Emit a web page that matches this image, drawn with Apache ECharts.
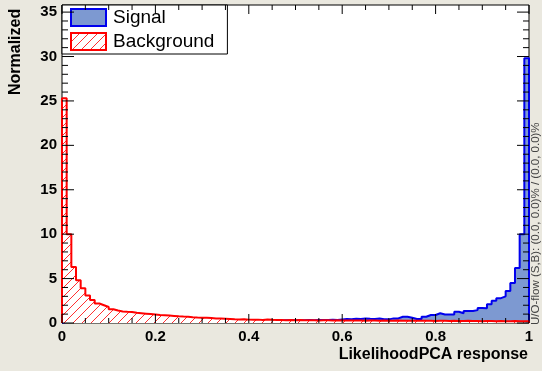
<!DOCTYPE html>
<html><head><meta charset="utf-8">
<script src="https://cdn.jsdelivr.net/npm/echarts@6/dist/echarts.min.js"></script>
<style>html,body{margin:0;padding:0;background:#eae8df;}#c{width:542px;height:371px;}</style>
</head><body><div id="c"></div>
<script>
// Histogram bin edges: 100 bins from 0 to 1 (width 0.01)
var binLow = 0, binWidth = 0.01;
var signalValues = [
 0.15,0.15,0.15,0.16,0.15,0.16,0.17,0.16,0.17,0.17,
 0.18,0.18,0.17,0.18,0.19,0.18,0.2,0.19,0.2,0.2,
 0.2,0.21,0.2,0.22,0.21,0.22,0.22,0.23,0.22,0.24,
 0.24,0.23,0.25,0.24,0.26,0.25,0.26,0.27,0.26,0.27,
 0.28,0.27,0.28,0.29,0.28,0.3,0.29,0.3,0.31,0.3,
 0.32,0.31,0.33,0.32,0.34,0.33,0.35,0.36,0.35,0.4,
 0.45,0.42,0.48,0.44,0.5,0.47,0.45,0.5,0.41,0.41,
 0.52,0.52,0.7,0.7,0.6,0.45,0.45,0.7,0.9,0.9,
 1.1,0.95,0.95,0.95,1.27,1.1,1.35,1.35,1.45,1.7,
 1.65,2.1,2.5,2.8,3.0,3.6,4.5,6.2,10.0,29.8
];
var backgroundValues = [
 25.3,10.0,6.3,4.8,3.9,3.1,2.6,2.2,2.0,1.8,
 1.55,1.4,1.3,1.27,1.25,1.15,1.1,1.05,1.0,0.95,
 0.9,0.88,0.85,0.8,0.75,0.72,0.7,0.65,0.62,0.6,
 0.58,0.55,0.52,0.5,0.48,0.45,0.42,0.4,0.42,0.38,
 0.36,0.38,0.35,0.4,0.36,0.33,0.35,0.32,0.34,0.3,
 0.33,0.31,0.3,0.32,0.29,0.3,0.31,0.28,0.3,0.29,
 0.28,0.29,0.27,0.28,0.26,0.28,0.27,0.26,0.27,0.25,
 0.26,0.27,0.25,0.26,0.24,0.25,0.26,0.24,0.25,0.23,
 0.24,0.25,0.23,0.24,0.22,0.23,0.24,0.22,0.23,0.21,
 0.22,0.23,0.21,0.22,0.2,0.21,0.22,0.2,0.21,0.2
];
var seriesNames = ['Signal', 'Background'];
var xTitle = 'LikelihoodPCA response';
var yTitle = 'Normalized';
var flowText = 'U/O-flow (S,B): (0.0, 0.0)% / (0.0, 0.0)%';
var xMajorStep = 0.2, xMinorStep = 0.05, xMin = 0, xMax = 1;
var yMajorStep = 5, yMinorStep = 1, yMin = 0, yMax = 35.8;

function histPoints(vals) {
  var pts = [[binLow, 0]];
  for (var i = 0; i < vals.length; i++) pts.push([+(binLow + i * binWidth).toFixed(4), vals[i]]);
  var end = binLow + vals.length * binWidth;
  pts.push([end, vals[vals.length - 1]]);
  pts.push([end, 0]);
  return pts;
}

// tick descriptors: [value, isMajor(1/0), axis(0 = x, 1 = y)]
function tickList(min, max, minor, major, axisId) {
  var out = [], n = Math.round((max - min) / minor + 1e-9);
  for (var i = 0; i <= n; i++) {
    var v = +(min + i * minor).toFixed(6);
    var isMajor = Math.abs(v / major - Math.round(v / major)) < 1e-6 ? 1 : 0;
    out.push([v, isMajor, axisId]);
  }
  return out;
}
var tickData = tickList(xMin, xMax, xMinorStep, xMajorStep, 0).concat(tickList(yMin, 35, yMinorStep, yMajorStep, 1));

function hatch() {
  var n = 9, c = document.createElement('canvas');
  c.width = n; c.height = n;
  var g = c.getContext('2d');
  g.fillStyle = '#ffffff';
  g.fillRect(0, 0, n, n);
  g.fillStyle = '#ff3030';
  for (var i = 0; i < n; i++) g.fillRect(i, n - 1 - i, 1, 1);
  return { image: c, repeat: 'repeat' };
}
var hatchPattern = hatch();

var chart = echarts.init(document.getElementById('c'));
var labelStyle = { color: '#000', fontFamily: 'Liberation Sans', fontWeight: 'bold', fontSize: 15 };
var gridL = 62, gridR = 13, gridT = 5, gridB = 48;

function renderTick(params, api) {
  var v = api.value(0), major = api.value(1), isY = api.value(2);
  var style = { stroke: '#000', lineWidth: 1 };
  var a, b, len;
  if (!isY) {
    len = major ? 9 : 5;
    a = api.coord([v, yMin]); b = api.coord([v, yMax]);
    return { type: 'group', children: [
      { type: 'line', shape: { x1: a[0], y1: a[1], x2: a[0], y2: a[1] - len }, style: style },
      { type: 'line', shape: { x1: b[0], y1: b[1], x2: b[0], y2: b[1] + len }, style: style }
    ] };
  }
  len = major ? 12 : 6;
  a = api.coord([xMin, v]); b = api.coord([xMax, v]);
  return { type: 'group', children: [
    { type: 'line', shape: { x1: a[0], y1: a[1], x2: a[0] + len, y2: a[1] }, style: style },
    { type: 'line', shape: { x1: b[0], y1: b[1], x2: b[0] - len, y2: b[1] }, style: style }
  ] };
}

chart.setOption({
  backgroundColor: '#eae8df',
  animation: false,
  grid: { left: gridL, right: gridR, top: gridT, bottom: gridB, show: true, backgroundColor: '#ffffff', borderColor: '#000', borderWidth: 1 },
  xAxis: { type: 'value', min: xMin, max: xMax, interval: xMajorStep, position: 'bottom',
    axisLine: { show: false }, splitLine: { show: false }, axisTick: { show: false },
    axisLabel: Object.assign({ margin: 6 }, labelStyle) },
  yAxis: { type: 'value', min: yMin, max: yMax, interval: yMajorStep, position: 'left',
    axisLine: { show: false }, splitLine: { show: false }, axisTick: { show: false },
    axisLabel: Object.assign({ margin: 5 }, labelStyle) },
  legend: {
    orient: 'vertical', left: gridL, top: gridT,
    backgroundColor: '#fff', borderColor: '#000', borderWidth: 1,
    padding: [3, 13, 3, 8], itemGap: 5, itemWidth: 35, itemHeight: 17,
    textStyle: { fontFamily: 'Liberation Sans', fontSize: 19, color: '#000', padding: [0, 0, 0, 2] },
    data: [
      { name: seriesNames[0], icon: 'rect', itemStyle: { color: '#7d99d1', borderColor: '#0000ee', borderWidth: 2 } },
      { name: seriesNames[1], icon: 'rect', itemStyle: { color: hatchPattern, borderColor: '#ff0000', borderWidth: 2 } }
    ]
  },
  series: [
    { name: seriesNames[0], type: 'line', step: 'end', symbol: 'none',
      data: histPoints(signalValues), color: '#0000ee',
      lineStyle: { color: '#0000ee', width: 2 }, areaStyle: { color: '#7d99d1', opacity: 1 }, z: 2 },
    { name: seriesNames[1], type: 'line', step: 'end', symbol: 'none',
      data: histPoints(backgroundValues), color: '#ff0000',
      lineStyle: { color: '#ff0000', width: 2 }, areaStyle: { color: hatchPattern, opacity: 1 }, z: 3 },
    { name: 'ticks', type: 'custom', silent: true, clip: false, z: 10,
      encode: { x: 0, y: 1 }, data: tickData, renderItem: renderTick }
  ],
  graphic: [
    { type: 'text', x: 528, y: 347, style: { text: xTitle, fill: '#000', font: 'bold 16px "Liberation Sans"', textAlign: 'right', textVerticalAlign: 'top' } },
    { type: 'text', x: 8, y: 95, rotation: Math.PI / 2, style: { text: yTitle, fill: '#000', font: 'bold 16px "Liberation Sans"', textAlign: 'left', textVerticalAlign: 'top' } },
    { type: 'text', x: 530, y: 325, rotation: Math.PI / 2, style: { text: flowText, fill: '#444', font: '11.5px "Liberation Sans"', textAlign: 'left', textVerticalAlign: 'top' } }
  ]
});
</script></body></html>
